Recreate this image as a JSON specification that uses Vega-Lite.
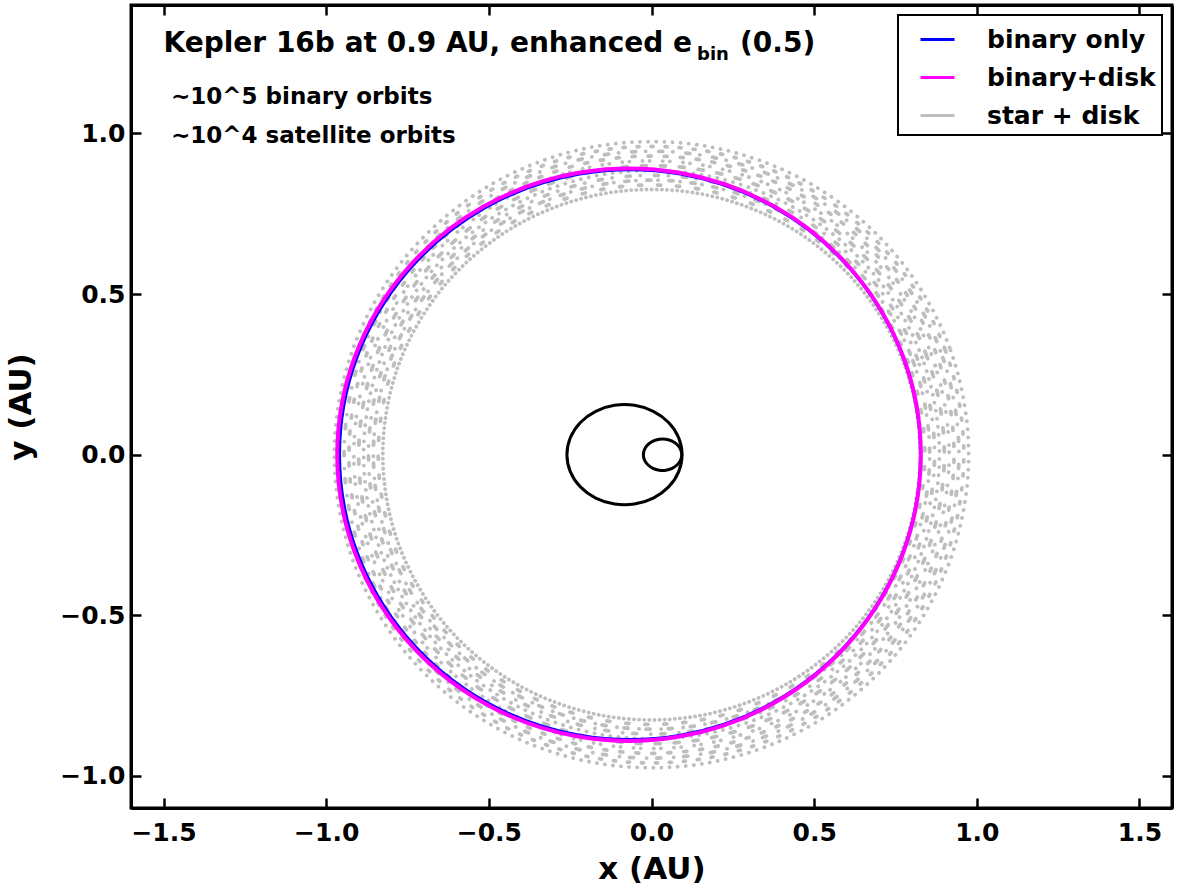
{
  "$schema": "https://vega.github.io/schema/vega-lite/v6.json",
  "width": 1041,
  "height": 803,
  "autosize": {"type": "none"},
  "padding": {"left": 131, "top": 5, "right": 6, "bottom": 82},
  "background": "white",
  "config": {
    "font": "DejaVu Sans",
    "view": {"stroke": "black", "strokeWidth": 3},
    "axis": {"grid": false, "tickSize": -10, "tickWidth": 2.5, "tickColor": "black", "domainColor": "black", "domainWidth": 3, "labelFont": "DejaVu Sans", "labelFontSize": 25, "labelFontWeight": "bold", "labelColor": "black", "labelFlush": false, "labelOverlap": false, "titleFont": "DejaVu Sans", "titleFontSize": 31, "titleFontWeight": "bold", "titleColor": "black"}
  },
  "datasets": {
    "gray": [
      {"r":"A","a":0,"x":0.826,"y":0},{"r":"A","a":20,"x":0.7762,"y":0.2825},{"r":"A","a":40,"x":0.6327,"y":0.531},{"r":"A","a":60,"x":0.413,"y":0.7153},{"r":"A","a":80,"x":0.1434,"y":0.8134},{"r":"A","a":100,"x":-0.1434,"y":0.8134},{"r":"A","a":120,"x":-0.413,"y":0.7153},{"r":"A","a":140,"x":-0.6327,"y":0.531},{"r":"A","a":160,"x":-0.7762,"y":0.2825},{"r":"A","a":180,"x":-0.826,"y":0},{"r":"A","a":200,"x":-0.7762,"y":-0.2825},{"r":"A","a":220,"x":-0.6327,"y":-0.531},{"r":"A","a":240,"x":-0.413,"y":-0.7153},{"r":"A","a":260,"x":-0.1434,"y":-0.8134},{"r":"A","a":280,"x":0.1434,"y":-0.8134},{"r":"A","a":300,"x":0.413,"y":-0.7153},{"r":"A","a":320,"x":0.6327,"y":-0.531},{"r":"A","a":340,"x":0.7762,"y":-0.2825},
      {"r":"G","a":0,"x":0.84,"y":0},{"r":"G","a":20,"x":0.7893,"y":0.2873},{"r":"G","a":40,"x":0.6434,"y":0.54},{"r":"G","a":60,"x":0.42,"y":0.7274},{"r":"G","a":80,"x":0.1458,"y":0.8272},{"r":"G","a":100,"x":-0.1458,"y":0.8272},{"r":"G","a":120,"x":-0.42,"y":0.7274},{"r":"G","a":140,"x":-0.6434,"y":0.54},{"r":"G","a":160,"x":-0.7893,"y":0.2873},{"r":"G","a":180,"x":-0.84,"y":0},{"r":"G","a":200,"x":-0.7893,"y":-0.2873},{"r":"G","a":220,"x":-0.6434,"y":-0.54},{"r":"G","a":240,"x":-0.42,"y":-0.7274},{"r":"G","a":260,"x":-0.1458,"y":-0.8272},{"r":"G","a":280,"x":0.1458,"y":-0.8272},{"r":"G","a":300,"x":0.42,"y":-0.7274},{"r":"G","a":320,"x":0.6434,"y":-0.54},{"r":"G","a":340,"x":0.7893,"y":-0.2873},
      {"r":"B","a":0,"x":0.855,"y":0},{"r":"B","a":20,"x":0.8034,"y":0.2924},{"r":"B","a":40,"x":0.6549,"y":0.5496},{"r":"B","a":60,"x":0.4275,"y":0.7404},{"r":"B","a":80,"x":0.1484,"y":0.842},{"r":"B","a":100,"x":-0.1484,"y":0.842},{"r":"B","a":120,"x":-0.4275,"y":0.7404},{"r":"B","a":140,"x":-0.6549,"y":0.5496},{"r":"B","a":160,"x":-0.8034,"y":0.2924},{"r":"B","a":180,"x":-0.855,"y":0},{"r":"B","a":200,"x":-0.8034,"y":-0.2924},{"r":"B","a":220,"x":-0.6549,"y":-0.5496},{"r":"B","a":240,"x":-0.4275,"y":-0.7404},{"r":"B","a":260,"x":-0.1484,"y":-0.842},{"r":"B","a":280,"x":0.1484,"y":-0.842},{"r":"B","a":300,"x":0.4275,"y":-0.7404},{"r":"B","a":320,"x":0.6549,"y":-0.5496},{"r":"B","a":340,"x":0.8034,"y":-0.2924},
      {"r":"H","a":0,"x":0.87,"y":0},{"r":"H","a":20,"x":0.8175,"y":0.2975},{"r":"H","a":40,"x":0.6664,"y":0.5592},{"r":"H","a":60,"x":0.435,"y":0.7534},{"r":"H","a":80,"x":0.151,"y":0.8568},{"r":"H","a":100,"x":-0.151,"y":0.8568},{"r":"H","a":120,"x":-0.435,"y":0.7534},{"r":"H","a":140,"x":-0.6664,"y":0.5592},{"r":"H","a":160,"x":-0.8175,"y":0.2975},{"r":"H","a":180,"x":-0.87,"y":0},{"r":"H","a":200,"x":-0.8175,"y":-0.2975},{"r":"H","a":220,"x":-0.6664,"y":-0.5592},{"r":"H","a":240,"x":-0.435,"y":-0.7534},{"r":"H","a":260,"x":-0.151,"y":-0.8568},{"r":"H","a":280,"x":0.151,"y":-0.8568},{"r":"H","a":300,"x":0.435,"y":-0.7534},{"r":"H","a":320,"x":0.6664,"y":-0.5592},{"r":"H","a":340,"x":0.8175,"y":-0.2975},
      {"r":"C","a":0,"x":0.885,"y":0},{"r":"C","a":20,"x":0.8316,"y":0.3027},{"r":"C","a":40,"x":0.6779,"y":0.5689},{"r":"C","a":60,"x":0.4425,"y":0.7664},{"r":"C","a":80,"x":0.1536,"y":0.8715},{"r":"C","a":100,"x":-0.1536,"y":0.8715},{"r":"C","a":120,"x":-0.4425,"y":0.7664},{"r":"C","a":140,"x":-0.6779,"y":0.5689},{"r":"C","a":160,"x":-0.8316,"y":0.3027},{"r":"C","a":180,"x":-0.885,"y":0},{"r":"C","a":200,"x":-0.8316,"y":-0.3027},{"r":"C","a":220,"x":-0.6779,"y":-0.5689},{"r":"C","a":240,"x":-0.4425,"y":-0.7664},{"r":"C","a":260,"x":-0.1536,"y":-0.8715},{"r":"C","a":280,"x":0.1536,"y":-0.8715},{"r":"C","a":300,"x":0.4425,"y":-0.7664},{"r":"C","a":320,"x":0.6779,"y":-0.5689},{"r":"C","a":340,"x":0.8316,"y":-0.3027},
      {"r":"I","a":0,"x":0.9,"y":0},{"r":"I","a":20,"x":0.8457,"y":0.3078},{"r":"I","a":40,"x":0.6894,"y":0.5785},{"r":"I","a":60,"x":0.45,"y":0.7794},{"r":"I","a":80,"x":0.1562,"y":0.8863},{"r":"I","a":100,"x":-0.1562,"y":0.8863},{"r":"I","a":120,"x":-0.45,"y":0.7794},{"r":"I","a":140,"x":-0.6894,"y":0.5785},{"r":"I","a":160,"x":-0.8457,"y":0.3078},{"r":"I","a":180,"x":-0.9,"y":0},{"r":"I","a":200,"x":-0.8457,"y":-0.3078},{"r":"I","a":220,"x":-0.6894,"y":-0.5785},{"r":"I","a":240,"x":-0.45,"y":-0.7794},{"r":"I","a":260,"x":-0.1562,"y":-0.8863},{"r":"I","a":280,"x":0.1562,"y":-0.8863},{"r":"I","a":300,"x":0.45,"y":-0.7794},{"r":"I","a":320,"x":0.6894,"y":-0.5785},{"r":"I","a":340,"x":0.8457,"y":-0.3078},
      {"r":"D","a":0,"x":0.915,"y":0},{"r":"D","a":20,"x":0.8598,"y":0.3129},{"r":"D","a":40,"x":0.7009,"y":0.5882},{"r":"D","a":60,"x":0.4575,"y":0.7924},{"r":"D","a":80,"x":0.1588,"y":0.9011},{"r":"D","a":100,"x":-0.1588,"y":0.9011},{"r":"D","a":120,"x":-0.4575,"y":0.7924},{"r":"D","a":140,"x":-0.7009,"y":0.5882},{"r":"D","a":160,"x":-0.8598,"y":0.3129},{"r":"D","a":180,"x":-0.915,"y":0},{"r":"D","a":200,"x":-0.8598,"y":-0.3129},{"r":"D","a":220,"x":-0.7009,"y":-0.5882},{"r":"D","a":240,"x":-0.4575,"y":-0.7924},{"r":"D","a":260,"x":-0.1588,"y":-0.9011},{"r":"D","a":280,"x":0.1588,"y":-0.9011},{"r":"D","a":300,"x":0.4575,"y":-0.7924},{"r":"D","a":320,"x":0.7009,"y":-0.5882},{"r":"D","a":340,"x":0.8598,"y":-0.3129},
      {"r":"J","a":0,"x":0.93,"y":0},{"r":"J","a":20,"x":0.8739,"y":0.3181},{"r":"J","a":40,"x":0.7124,"y":0.5978},{"r":"J","a":60,"x":0.465,"y":0.8054},{"r":"J","a":80,"x":0.1614,"y":0.9159},{"r":"J","a":100,"x":-0.1614,"y":0.9159},{"r":"J","a":120,"x":-0.465,"y":0.8054},{"r":"J","a":140,"x":-0.7124,"y":0.5978},{"r":"J","a":160,"x":-0.8739,"y":0.3181},{"r":"J","a":180,"x":-0.93,"y":0},{"r":"J","a":200,"x":-0.8739,"y":-0.3181},{"r":"J","a":220,"x":-0.7124,"y":-0.5978},{"r":"J","a":240,"x":-0.465,"y":-0.8054},{"r":"J","a":260,"x":-0.1614,"y":-0.9159},{"r":"J","a":280,"x":0.1614,"y":-0.9159},{"r":"J","a":300,"x":0.465,"y":-0.8054},{"r":"J","a":320,"x":0.7124,"y":-0.5978},{"r":"J","a":340,"x":0.8739,"y":-0.3181},
      {"r":"E","a":0,"x":0.945,"y":0},{"r":"E","a":20,"x":0.888,"y":0.3232},{"r":"E","a":40,"x":0.7239,"y":0.6074},{"r":"E","a":60,"x":0.4725,"y":0.8184},{"r":"E","a":80,"x":0.1641,"y":0.9306},{"r":"E","a":100,"x":-0.1641,"y":0.9306},{"r":"E","a":120,"x":-0.4725,"y":0.8184},{"r":"E","a":140,"x":-0.7239,"y":0.6074},{"r":"E","a":160,"x":-0.888,"y":0.3232},{"r":"E","a":180,"x":-0.945,"y":0},{"r":"E","a":200,"x":-0.888,"y":-0.3232},{"r":"E","a":220,"x":-0.7239,"y":-0.6074},{"r":"E","a":240,"x":-0.4725,"y":-0.8184},{"r":"E","a":260,"x":-0.1641,"y":-0.9306},{"r":"E","a":280,"x":0.1641,"y":-0.9306},{"r":"E","a":300,"x":0.4725,"y":-0.8184},{"r":"E","a":320,"x":0.7239,"y":-0.6074},{"r":"E","a":340,"x":0.888,"y":-0.3232},
      {"r":"K","a":0,"x":0.96,"y":0},{"r":"K","a":20,"x":0.9021,"y":0.3283},{"r":"K","a":40,"x":0.7354,"y":0.6171},{"r":"K","a":60,"x":0.48,"y":0.8314},{"r":"K","a":80,"x":0.1667,"y":0.9454},{"r":"K","a":100,"x":-0.1667,"y":0.9454},{"r":"K","a":120,"x":-0.48,"y":0.8314},{"r":"K","a":140,"x":-0.7354,"y":0.6171},{"r":"K","a":160,"x":-0.9021,"y":0.3283},{"r":"K","a":180,"x":-0.96,"y":0},{"r":"K","a":200,"x":-0.9021,"y":-0.3283},{"r":"K","a":220,"x":-0.7354,"y":-0.6171},{"r":"K","a":240,"x":-0.48,"y":-0.8314},{"r":"K","a":260,"x":-0.1667,"y":-0.9454},{"r":"K","a":280,"x":0.1667,"y":-0.9454},{"r":"K","a":300,"x":0.48,"y":-0.8314},{"r":"K","a":320,"x":0.7354,"y":-0.6171},{"r":"K","a":340,"x":0.9021,"y":-0.3283},
      {"r":"F","a":0,"x":0.975,"y":0},{"r":"F","a":20,"x":0.9162,"y":0.3335},{"r":"F","a":40,"x":0.7469,"y":0.6267},{"r":"F","a":60,"x":0.4875,"y":0.8444},{"r":"F","a":80,"x":0.1693,"y":0.9602},{"r":"F","a":100,"x":-0.1693,"y":0.9602},{"r":"F","a":120,"x":-0.4875,"y":0.8444},{"r":"F","a":140,"x":-0.7469,"y":0.6267},{"r":"F","a":160,"x":-0.9162,"y":0.3335},{"r":"F","a":180,"x":-0.975,"y":0},{"r":"F","a":200,"x":-0.9162,"y":-0.3335},{"r":"F","a":220,"x":-0.7469,"y":-0.6267},{"r":"F","a":240,"x":-0.4875,"y":-0.8444},{"r":"F","a":260,"x":-0.1693,"y":-0.9602},{"r":"F","a":280,"x":0.1693,"y":-0.9602},{"r":"F","a":300,"x":0.4875,"y":-0.8444},{"r":"F","a":320,"x":0.7469,"y":-0.6267},{"r":"F","a":340,"x":0.9162,"y":-0.3335}
    ],
    "blue": [
      {"a":0,"x":0.827,"y":0},{"a":20,"x":0.7732,"y":0.3034},{"a":40,"x":0.618,"y":0.5702},{"a":60,"x":0.3805,"y":0.7681},{"a":80,"x":0.089,"y":0.8735},{"a":100,"x":-0.221,"y":0.8735},{"a":120,"x":-0.5125,"y":0.7681},{"a":140,"x":-0.75,"y":0.5702},{"a":160,"x":-0.9052,"y":0.3034},{"a":180,"x":-0.959,"y":0},{"a":200,"x":-0.9052,"y":-0.3034},{"a":220,"x":-0.75,"y":-0.5702},{"a":240,"x":-0.5125,"y":-0.7681},{"a":260,"x":-0.221,"y":-0.8735},{"a":280,"x":0.089,"y":-0.8735},{"a":300,"x":0.3805,"y":-0.7681},{"a":320,"x":0.618,"y":-0.5702},{"a":340,"x":0.7732,"y":-0.3034}
    ],
    "magenta": [
      {"a":0,"x":0.828,"y":0},{"a":20,"x":0.7739,"y":0.3047},{"a":40,"x":0.6181,"y":0.5727},{"a":60,"x":0.3795,"y":0.7716},{"a":80,"x":0.0867,"y":0.8775},{"a":100,"x":-0.2247,"y":0.8775},{"a":120,"x":-0.5175,"y":0.7716},{"a":140,"x":-0.7561,"y":0.5727},{"a":160,"x":-0.9119,"y":0.3047},{"a":180,"x":-0.966,"y":0},{"a":200,"x":-0.9119,"y":-0.3047},{"a":220,"x":-0.7561,"y":-0.5727},{"a":240,"x":-0.5175,"y":-0.7716},{"a":260,"x":-0.2247,"y":-0.8775},{"a":280,"x":0.0867,"y":-0.8775},{"a":300,"x":0.3795,"y":-0.7716},{"a":320,"x":0.6181,"y":-0.5727},{"a":340,"x":0.7739,"y":-0.3047}
    ],
    "black": [
      {"e":"big","a":0,"x":0.094,"y":0},{"e":"big","a":20,"x":0.0833,"y":0.0534},{"e":"big","a":40,"x":0.0526,"y":0.1003},{"e":"big","a":60,"x":0.0055,"y":0.1351},{"e":"big","a":80,"x":-0.0523,"y":0.1536},{"e":"big","a":100,"x":-0.1137,"y":0.1536},{"e":"big","a":120,"x":-0.1715,"y":0.1351},{"e":"big","a":140,"x":-0.2186,"y":0.1003},{"e":"big","a":160,"x":-0.2493,"y":0.0534},{"e":"big","a":180,"x":-0.26,"y":0},{"e":"big","a":200,"x":-0.2493,"y":-0.0534},{"e":"big","a":220,"x":-0.2186,"y":-0.1003},{"e":"big","a":240,"x":-0.1715,"y":-0.1351},{"e":"big","a":260,"x":-0.1137,"y":-0.1536},{"e":"big","a":280,"x":-0.0523,"y":-0.1536},{"e":"big","a":300,"x":0.0055,"y":-0.1351},{"e":"big","a":320,"x":0.0526,"y":-0.1003},{"e":"big","a":340,"x":0.0833,"y":-0.0534},
      {"e":"small","a":0,"x":0.093,"y":0},{"e":"small","a":20,"x":0.0894,"y":0.0168},{"e":"small","a":40,"x":0.0792,"y":0.0315},{"e":"small","a":60,"x":0.0635,"y":0.0424},{"e":"small","a":80,"x":0.0442,"y":0.0483},{"e":"small","a":100,"x":0.0238,"y":0.0483},{"e":"small","a":120,"x":0.0045,"y":0.0424},{"e":"small","a":140,"x":-0.0112,"y":0.0315},{"e":"small","a":160,"x":-0.0214,"y":0.0168},{"e":"small","a":180,"x":-0.025,"y":0},{"e":"small","a":200,"x":-0.0214,"y":-0.0168},{"e":"small","a":220,"x":-0.0112,"y":-0.0315},{"e":"small","a":240,"x":0.0045,"y":-0.0424},{"e":"small","a":260,"x":0.0238,"y":-0.0483},{"e":"small","a":280,"x":0.0442,"y":-0.0483},{"e":"small","a":300,"x":0.0635,"y":-0.0424},{"e":"small","a":320,"x":0.0792,"y":-0.0315},{"e":"small","a":340,"x":0.0894,"y":-0.0168}
    ],
    "texts": [
      {"k":"title","x":0.1245,"y":1.2547,"t":"Kepler 16b at 0.9 AU, enhanced e"},
      {"k":"sub","x":0.14,"y":1.2298,"t":"bin"},
      {"k":"par","x":0.272,"y":1.2547,"t":"(0.5)"},
      {"k":"note","x":-1.477,"y":1.093,"t":"∼10^5 binary orbits"},
      {"k":"note","x":-1.477,"y":0.969,"t":"∼10^4 satellite orbits"}
    ]
  },
  "resolve": {"axis": {"x": "independent", "y": "independent"}},
  "layer": [
    {
      "data": {"name": "gray"},
      "mark": {"type": "line", "interpolate": "cardinal-closed", "strokeWidth": 3.8, "strokeCap": "round"},
      "encoding": {
        "x": {"field": "x", "type": "quantitative", "scale": {"domain": [-1.6, 1.6], "nice": false, "zero": false}, "axis": null},
        "y": {"field": "y", "type": "quantitative", "scale": {"domain": [-1.1, 1.4], "nice": false, "zero": false}, "axis": null},
        "order": {"field": "a", "type": "quantitative"},
        "detail": {"field": "r", "type": "nominal"},
        "strokeDash": {"field": "r", "type": "nominal", "scale": {"domain": ["A","G","B","H","C","I","D","J","E","K","F"], "range": [[0.1, 5],[3, 16],[0.1, 7, 4, 11],[4, 14, 0.1, 10],[0.1, 8],[5, 14],[0.1, 7, 0.1, 13],[3, 13],[0.1, 10, 4, 13],[2, 12],[0.1, 8]]}, "legend": null},
        "color": {"datum": "star + disk", "type": "nominal",
          "scale": {"domain": ["binary only", "binary+disk", "star + disk"], "range": ["#0000ff", "#ff00ff", "#bebebe"]},
          "legend": {"title": null, "orient": "top-right", "offset": 10, "padding": 6, "strokeColor": "black", "fillColor": "white", "cornerRadius": 0, "symbolType": "stroke", "symbolSize": 1156, "symbolStrokeWidth": 3, "symbolOffset": 15, "labelFont": "DejaVu Sans", "labelFontSize": 25, "labelFontWeight": "bold", "labelColor": "black", "labelOffset": 31, "labelLimit": 400, "rowPadding": 6, "symbolOpacity": 1,
            "encode": {"legend": {"update": {"strokeWidth": {"value": 2}}}, "symbols": {"update": {"strokeDash": {"value": [1, 0]}}}}}
        }
      }
    },
    {
      "data": {"name": "blue"},
      "mark": {"type": "line", "interpolate": "cardinal-closed", "strokeWidth": 3},
      "encoding": {
        "x": {"field": "x", "type": "quantitative", "scale": {"domain": [-1.6, 1.6], "nice": false, "zero": false},
          "axis": {"orient": "bottom", "values": [-1.5, -1, -0.5, 0, 0.5, 1, 1.5], "format": ".1f", "title": "x (AU)", "labelPadding": 22, "titlePadding": 9}},
        "y": {"field": "y", "type": "quantitative", "scale": {"domain": [-1.1, 1.4], "nice": false, "zero": false},
          "axis": {"orient": "left", "values": [-1, -0.5, 0, 0.5, 1], "format": ".1f", "title": "y (AU)", "labelPadding": 16, "titlePadding": 22}},
        "order": {"field": "a", "type": "quantitative"},
        "color": {"datum": "binary only", "type": "nominal"}
      }
    },
    {
      "data": {"name": "magenta"},
      "mark": {"type": "line", "interpolate": "cardinal-closed", "strokeWidth": 4},
      "encoding": {
        "x": {"field": "x", "type": "quantitative", "scale": {"domain": [-1.6, 1.6], "nice": false, "zero": false},
          "axis": {"orient": "top", "values": [-1.5, -1, -0.5, 0, 0.5, 1, 1.5], "labels": false, "title": null}},
        "y": {"field": "y", "type": "quantitative", "scale": {"domain": [-1.1, 1.4], "nice": false, "zero": false},
          "axis": {"orient": "right", "values": [-1, -0.5, 0, 0.5, 1], "labels": false, "title": null}},
        "order": {"field": "a", "type": "quantitative"},
        "color": {"datum": "binary+disk", "type": "nominal"}
      }
    },
    {
      "data": {"name": "black"},
      "mark": {"type": "line", "interpolate": "cardinal-closed", "strokeWidth": 3, "color": "black"},
      "encoding": {
        "x": {"field": "x", "type": "quantitative", "scale": {"domain": [-1.6, 1.6], "nice": false, "zero": false}, "axis": null},
        "y": {"field": "y", "type": "quantitative", "scale": {"domain": [-1.1, 1.4], "nice": false, "zero": false}, "axis": null},
        "order": {"field": "a", "type": "quantitative"},
        "detail": {"field": "e", "type": "nominal"}
      }
    },
    {
      "data": {"name": "texts"},
      "transform": [{"filter": "datum.k === 'title'"}],
      "mark": {"type": "text", "align": "right", "baseline": "alphabetic", "font": "DejaVu Sans", "fontSize": 28, "fontWeight": "bold", "color": "black"},
      "encoding": {
        "x": {"field": "x", "type": "quantitative", "scale": {"domain": [-1.6, 1.6], "nice": false, "zero": false}, "axis": null},
        "y": {"field": "y", "type": "quantitative", "scale": {"domain": [-1.1, 1.4], "nice": false, "zero": false}, "axis": null},
        "text": {"field": "t"}
      }
    },
    {
      "data": {"name": "texts"},
      "transform": [{"filter": "datum.k === 'sub'"}],
      "mark": {"type": "text", "align": "left", "baseline": "alphabetic", "font": "DejaVu Sans", "fontSize": 18, "fontWeight": "bold", "color": "black"},
      "encoding": {
        "x": {"field": "x", "type": "quantitative", "scale": {"domain": [-1.6, 1.6], "nice": false, "zero": false}, "axis": null},
        "y": {"field": "y", "type": "quantitative", "scale": {"domain": [-1.1, 1.4], "nice": false, "zero": false}, "axis": null},
        "text": {"field": "t"}
      }
    },
    {
      "data": {"name": "texts"},
      "transform": [{"filter": "datum.k === 'par'"}],
      "mark": {"type": "text", "align": "left", "baseline": "alphabetic", "font": "DejaVu Sans", "fontSize": 28, "fontWeight": "bold", "color": "black"},
      "encoding": {
        "x": {"field": "x", "type": "quantitative", "scale": {"domain": [-1.6, 1.6], "nice": false, "zero": false}, "axis": null},
        "y": {"field": "y", "type": "quantitative", "scale": {"domain": [-1.1, 1.4], "nice": false, "zero": false}, "axis": null},
        "text": {"field": "t"}
      }
    },
    {
      "data": {"name": "texts"},
      "transform": [{"filter": "datum.k === 'note'"}],
      "mark": {"type": "text", "align": "left", "baseline": "alphabetic", "font": "DejaVu Sans", "fontSize": 23, "fontWeight": "bold", "color": "black"},
      "encoding": {
        "x": {"field": "x", "type": "quantitative", "scale": {"domain": [-1.6, 1.6], "nice": false, "zero": false}, "axis": null},
        "y": {"field": "y", "type": "quantitative", "scale": {"domain": [-1.1, 1.4], "nice": false, "zero": false}, "axis": null},
        "text": {"field": "t"}
      }
    }
  ]
}
